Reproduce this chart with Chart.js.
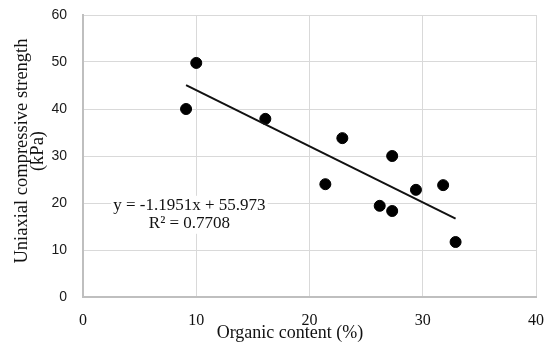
<!DOCTYPE html>
<html>
<head>
<meta charset="utf-8">
<script src="https://cdn.jsdelivr.net/npm/chart.js@4/dist/chart.umd.min.js"></script>
<style>
    html, body { margin: 0; padding: 0; background: #fff; }
    #wrap { width: 550px; height: 347px; position: relative; }
</style>
</head>
<body>
<div id="wrap"><canvas id="scatterChart"></canvas></div>
<script>
    // values
    const organicContent = [9.1, 10.0, 16.1, 21.4, 22.9, 26.2, 27.3, 27.3, 29.4, 31.8, 32.9];
    const strengthKpa = [40.0, 49.8, 37.9, 24.0, 33.8, 19.4, 30.0, 18.3, 22.8, 23.8, 11.7];
    const xTicks = [0, 10, 20, 30, 40];
    const yTicks = [0, 10, 20, 30, 40, 50, 60];
    const trendSlope = -1.1951;
    const trendIntercept = 55.973;
    const equationLines = ['y = -1.1951x + 55.973', 'R\u00b2 = 0.7708'];
    const xTitle = 'Organic content (%)';
    const yTitleLines = ['Uniaxial compressive strength', '(kPa)'];

    const trendX = [Math.min(...organicContent), Math.max(...organicContent)];
    const trendPoints = trendX.map(x => ({ x: x, y: trendSlope * x + trendIntercept }));
    const scatterPoints = organicContent.map((x, i) => ({ x: x, y: strengthKpa[i] }));

    const serif = '"Liberation Serif", "Times New Roman", serif';
    const sans = '"Liberation Sans", Arial, sans-serif';

    const annotationPlugin = {
        id: 'chartTexts',
        afterDraw(chart) {
            const ctx = chart.ctx;
            const area = chart.chartArea;
            const xs = chart.scales.x;
            const ys = chart.scales.y;
            ctx.save();

            // equation box
            ctx.font = '17px ' + serif;
            ctx.textAlign = 'center';
            ctx.textBaseline = 'middle';
            const ex = xs.getPixelForValue(9.4);
            const ey = ys.getPixelForValue(19.4);
            const w = Math.max(...equationLines.map(t => ctx.measureText(t).width));
            ctx.fillStyle = '#fff';
            ctx.fillRect(ex - w / 2 - 2, ey - 10, w + 4, 38);
            ctx.fillStyle = '#111';
            ctx.fillText(equationLines[0], ex, ey);
            ctx.fillText(equationLines[1], ex, ey + 18);

            // x title
            ctx.font = '18px ' + serif;
            ctx.fillStyle = '#111';
            ctx.fillText(xTitle, 290, 333);

            // y title
            ctx.translate(22, 151);
            ctx.rotate(-Math.PI / 2);
            ctx.font = '18.5px ' + serif;
            ctx.fillText(yTitleLines[0], 0, 0);
            ctx.fillText(yTitleLines[1], 0, 16);
            ctx.restore();
        }
    };

    new Chart(document.getElementById('scatterChart'), {
        type: 'scatter',
        data: {
            datasets: [
                {
                    data: scatterPoints,
                    backgroundColor: '#000',
                    borderColor: '#000',
                    pointRadius: 5.5,
                    pointHoverRadius: 5.5,
                    order: 2
                },
                {
                    type: 'line',
                    data: trendPoints,
                    borderColor: '#111',
                    borderWidth: 2,
                    pointRadius: 0,
                    fill: false,
                    order: 1
                }
            ]
        },
        options: {
            responsive: true,
            maintainAspectRatio: false,
            animation: false,
            layout: { padding: { top: 15, right: 14, bottom: 0, left: 0 } },
            plugins: {
                legend: { display: false },
                tooltip: { enabled: false }
            },
            scales: {
                x: {
                    type: 'linear',
                    min: 0,
                    max: 40,
                    afterBuildTicks: scale => { scale.ticks = xTicks.map(v => ({ value: v })); },
                    afterFit: scale => {
                        scale.height = 50;
                        scale.paddingLeft = 0;
                        scale.paddingRight = 0;
                    },
                    grid: { color: '#d9d9d9', lineWidth: 1, drawTicks: false },
                    border: { color: '#bfbfbf', width: 2 },
                    ticks: {
                        padding: 14,
                        color: '#111',
                        font: { family: serif, size: 16 }
                    }
                },
                y: {
                    min: 0,
                    max: 60,
                    afterBuildTicks: scale => { scale.ticks = yTicks.map(v => ({ value: v })); },
                    afterFit: scale => {
                        scale.width = 83;
                        scale.paddingTop = 0;
                        scale.paddingBottom = 0;
                    },
                    grid: { color: '#d9d9d9', lineWidth: 1, drawTicks: false },
                    border: { color: '#bfbfbf', width: 2 },
                    ticks: {
                        padding: 16,
                        color: '#1a1a1a',
                        font: { family: sans, size: 14 }
                    }
                }
            }
        },
        plugins: [annotationPlugin]
    });
</script>
</body>
</html>
